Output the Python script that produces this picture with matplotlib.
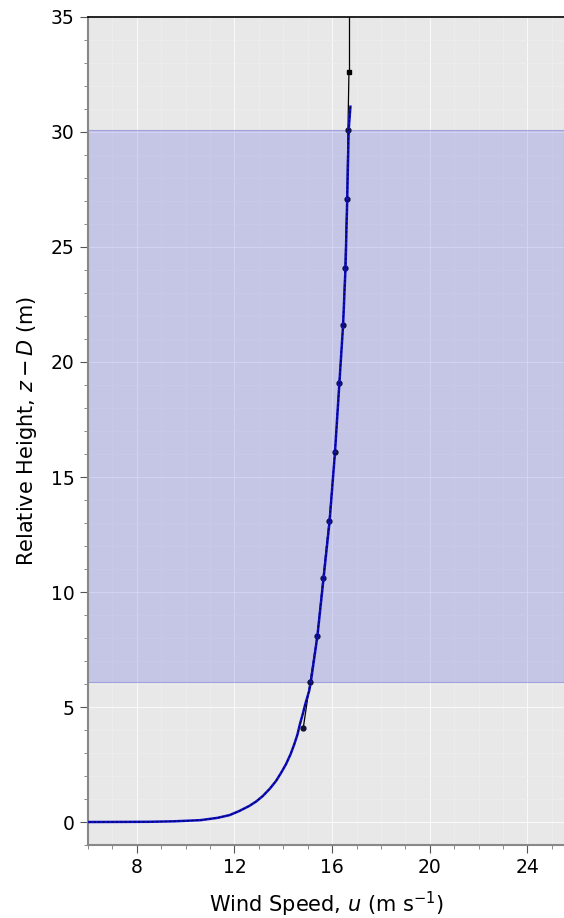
import matplotlib
matplotlib.use("Agg")
import matplotlib.pyplot as plt
from matplotlib.ticker import MultipleLocator

# measured profile (wind speed, relative height)
obs_u = [14.82, 15.10, 15.39, 15.63, 15.88, 16.12, 16.29, 16.45, 16.53, 16.61, 16.65, 16.69]
obs_z = [4.1, 6.1, 8.1, 10.6, 13.1, 16.1, 19.1, 21.6, 24.1, 27.1, 30.1, 32.6]
# black line keeps going above the frame
line_top_u = [16.69, 16.69]
line_top_z = [32.6, 38.0]

# fitted log profile
fit_u = [5.5, 6.0, 7.5, 8.5, 9.5, 10.6, 11.3, 11.8, 12.2, 12.61, 12.9, 13.16,
         13.45, 13.7, 13.9, 14.11, 14.3, 14.45, 14.58, 14.68, 14.8, 14.9, 15.06,
         15.13, 15.4, 15.65, 15.9, 16.12, 16.3, 16.45, 16.55, 16.62, 16.68, 16.75]
fit_z = [0.0, 0.0, 0.005, 0.01, 0.03, 0.08, 0.18, 0.30, 0.48, 0.70, 0.90, 1.13,
         1.45, 1.78, 2.12, 2.51, 2.95, 3.38, 3.80, 4.25, 4.70, 5.12, 5.70,
         6.1, 8.1, 10.6, 13.1, 16.1, 19.1, 21.6, 24.1, 27.1, 30.1, 31.1]

band_lo, band_hi = 6.1, 30.1

plt.rc("font", size=13)
fig = plt.figure(figsize=(5.64, 9.18), dpi=100)
ax = fig.add_axes([0.156, 0.0795, 0.844, 0.902])
ax.set_facecolor("#e8e8e8")

ax.axhspan(band_lo, band_hi, facecolor=(0.15, 0.15, 0.85, 0.18),
           edgecolor=(0.5, 0.5, 0.85, 0.6), lw=0.8, zorder=1)

ax.grid(True, which="major", color="white", alpha=0.75, lw=0.8, zorder=0)
ax.grid(True, which="minor", color="#eeeeee", lw=0.5, zorder=0)
ax.set_axisbelow(True)

ax.plot(obs_u, obs_z, color="black", lw=0.9, zorder=3)
ax.plot(line_top_u, line_top_z, color="black", lw=0.9, zorder=3)
ax.plot(obs_u[:-1], obs_z[:-1], "o", color="#111133", ms=3.5, zorder=4)
ax.plot(obs_u[-1:], obs_z[-1:], "s", color="black", ms=3.5, zorder=4)

ax.plot(fit_u, fit_z, color="#1010c8", lw=1.8, zorder=5)
ax.plot(fit_u, fit_z, color="#000050", lw=0.8, ls=(0, (2, 2)), zorder=6)

ax.set_xlim(6, 25.5)
ax.set_ylim(-1, 35)
ax.xaxis.set_major_locator(MultipleLocator(4))
ax.xaxis.set_minor_locator(MultipleLocator(1))
ax.yaxis.set_major_locator(MultipleLocator(5))
ax.yaxis.set_minor_locator(MultipleLocator(1))
ax.tick_params(which="major", length=6, color="#555555", labelsize=13.5)
ax.tick_params(which="minor", length=3, color="#777777")

for side in ("left", "bottom"):
    ax.spines[side].set_color("#888888")
    ax.spines[side].set_linewidth(1.5)
ax.spines["top"].set_color("black")
ax.spines["top"].set_linewidth(1.2)
ax.spines["right"].set_visible(False)

ax.set_xlabel("Wind Speed, $u$ (m s$^{-1}$)", fontsize=15, labelpad=9)
ax.set_ylabel("Relative Height, $z - D$ (m)", fontsize=15, labelpad=9)

fig.savefig("out.png", dpi=100)
